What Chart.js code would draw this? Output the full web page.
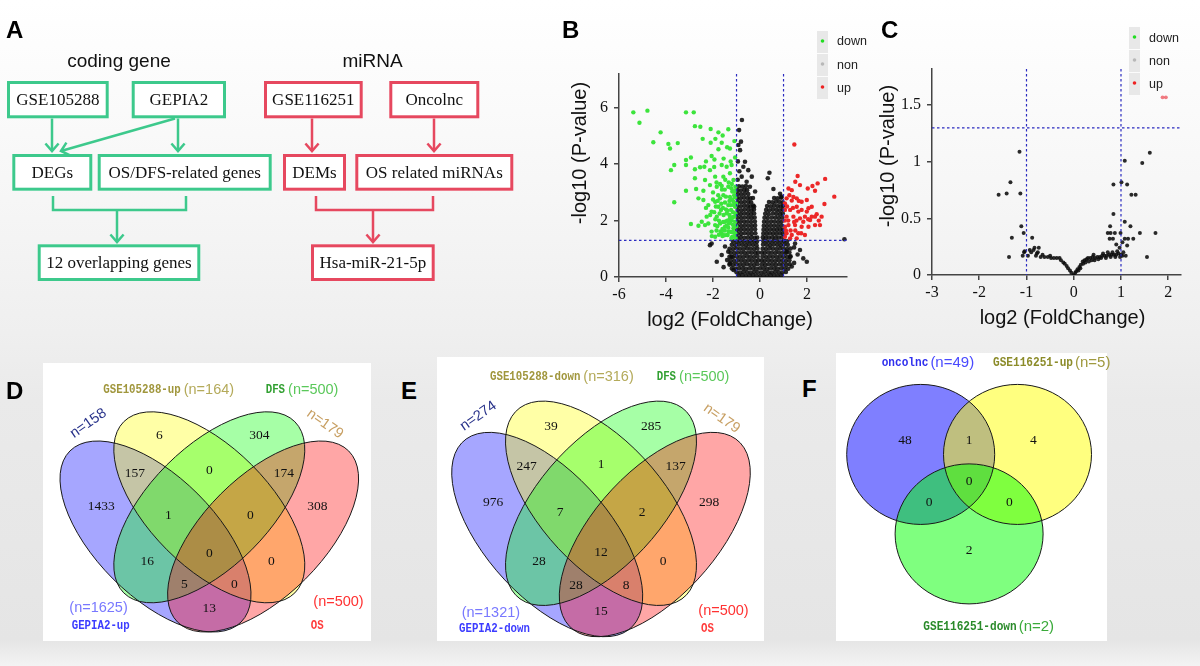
<!DOCTYPE html>
<html><head><meta charset="utf-8"><title>Figure</title>
<script src="https://cdn.jsdelivr.net/npm/chart.js@4.4.1/dist/chart.umd.min.js"></script>
<style>
html,body{margin:0;padding:0;width:1200px;height:666px;overflow:hidden;}
body{position:relative;background:linear-gradient(to bottom,#ffffff 0%,#f6f6f6 30%,#efefef 50%,#eaeaea 60%,#e5e5e5 96%,#f3f3f3 100%);}
canvas{position:absolute;}
.lab{position:absolute;z-index:5;font:bold 24px "Liberation Sans",Arial,sans-serif;line-height:24px;color:#000;}
</style></head>
<body>
<canvas id="cA" style="left:0px;top:0px" width="560" height="330"></canvas>
<canvas id="cB" style="left:560px;top:0px" width="310" height="340"></canvas>
<canvas id="cC" style="left:870px;top:0px" width="330" height="340"></canvas>
<canvas id="cD" style="left:43px;top:363px" width="328" height="278"></canvas>
<canvas id="cE" style="left:437px;top:357px" width="327" height="284"></canvas>
<canvas id="cF" style="left:836px;top:353px" width="284" height="288"></canvas>
<div class="lab" style="left:6px;top:18px">A</div>
<div class="lab" style="left:562px;top:18px">B</div>
<div class="lab" style="left:881px;top:18px">C</div>
<div class="lab" style="left:6px;top:379px">D</div>
<div class="lab" style="left:401px;top:379px">E</div>
<div class="lab" style="left:802px;top:377px">F</div>
<script>
// ================= DATA =================
// Panel A (flowchart texts)
const flowHeadings = ['coding gene', 'miRNA'];
const codingGeneBoxes = ['GSE105288', 'GEPIA2', 'DEGs', 'OS/DFS-related genes', '12 overlapping genes'];
const mirnaBoxes = ['GSE116251', 'Oncolnc', 'DEMs', 'OS related miRNAs', 'Hsa-miR-21-5p'];

// Panels B, C (volcano plots)
const seriesNames = ['down', 'non', 'up'];
const axisTitles = ['log2 (FoldChange)', '-log10 (P-value)'];
const foldChangeCutoffs = [-1, 1];
const pValueCutoff = 1.3;
const bXTicks = [-6, -4, -2, 0, 2];
const bYTicks = [0, 2, 4, 6];
const bDown = [[-5.39,5.84],[-4.79,5.9],[-5.13,5.47],[-4.23,5.13],[-4.54,4.78],[-3.9,4.72],[-3.83,4.56],[-3.5,4.75],[-3.15,5.84],[-2.82,5.84],[-2.77,5.35],[-2.54,5.33],[-2.1,5.25],[-1.77,5.13],[-1.59,5.02],[-1.35,5.24],[-2.44,4.9],[-2.1,4.76],[-1.63,4.76],[-1.09,4.82],[-1.28,4.56],[-1.77,4.53],[-2.06,4.29],[-3.15,4.15],[-2.94,4.24],[-1.06,4.24],[-1.94,4.17],[-3.65,3.97],[-3.79,3.79],[-3.15,3.97],[-2.77,3.82],[-2.55,3.89],[-2.37,3.91],[-2.13,3.79],[-1.63,3.97],[-1.42,3.91],[-1.21,3.97],[-1.91,3.56],[-1.56,3.56],[-1.28,3.68],[-1.13,3.44],[-3.65,2.65],[-3.15,3.06],[-2.72,3.12],[-2.41,3.06],[-2.13,3.26],[-1.84,3.2],[-1.63,3.23],[-1.35,3.2],[-1.18,3.03],[-2.94,1.88],[-2.62,1.82],[-2.34,1.84],[-2.06,1.61],[-2.41,2.73],[-2.2,2.55],[-1.91,2.67],[-1.7,2.79],[-1.49,2.64],[-1.28,2.84],[-1.13,2.67],[-2.06,2.32],[-1.84,2.14],[-1.66,2.38],[-1.42,2.26],[-1.23,2.38],[-1.09,2.14],[-1.91,1.84],[-1.7,1.9],[-1.49,1.78],[-1.32,1.9],[-1.13,1.73],[-1.63,1.55],[-1.38,1.49],[-1.18,1.43],[-1.91,1.43],[-1.28,2.08],[-1.49,1.96],[-1.35,2.55],[-1.56,2.9],[-1.06,2.84],[-1.06,2.49],[-1.06,1.96],[-1.06,1.55],[-1.77,2.49],[-2.34,3.44],[-2.77,3.5],[-2.62,2.79],[-2.27,2.14],[-2.48,1.96],[-1.15,2.3],[-1.2,2.0],[-1.25,1.6],[-1.4,2.0],[-1.55,2.2],[-1.6,1.7],[-1.75,2.0],[-1.45,2.4],[-1.3,2.7],[-1.1,2.9],[-1.5,3.1],[-1.8,2.7],[-1.95,2.3],[-2.2,1.9],[-1.05,3.2],[-1.2,3.3],[-1.4,1.5],[-1.6,1.45],[-1.1,1.45],[-1.02,2.6],[-1.3,2.2],[-1.7,3.3],[-2.0,3.0],[-1.15,1.85],[-1.25,2.55],[-1.35,1.75],[-1.45,2.85],[-1.65,2.6],[-1.85,1.65],[-1.05,2.25],[-1.2,1.6],[-1.02,1.8],[-1.5,1.65],[-1.75,1.5],[-1.9,2.05],[-2.05,1.45],
[-1.12,2.55],[-1.18,2.75],[-1.08,3.05],[-1.22,3.15],[-1.33,3.35],[-1.48,3.45],[-1.62,3.1],[-1.78,2.9],[-1.88,2.5],[-1.72,2.25],[-1.58,2.45],[-1.38,2.35],[-1.17,2.12],[-1.27,1.95],[-1.42,1.82],[-1.57,1.95],[-1.68,1.62],[-1.52,1.48],[-1.33,1.62],[-1.14,1.6],[-1.04,1.38],[-1.22,1.38],[-1.82,1.8],[-2.12,2.2],[-2.3,2.45],[-2.0,2.75],[-1.85,3.35],[-1.95,3.9],[-1.55,4.2],[-1.25,4.1],[-1.4,4.6],[-1.9,4.9],[-2.3,4.1]];
const bNon = [[-0.9,0.05],[-0.75,0.06],[-0.6,0.04],[-0.45,0.05],[-0.3,0.06],[-0.15,0.04],[0,0.03],[0.15,0.05],[0.3,0.04],[0.45,0.06],[0.6,0.05],[0.75,0.04],[0.9,0.06],
[-1.0,0.17],[-0.85,0.16],[-0.7,0.18],[-0.55,0.17],[-0.4,0.16],[-0.25,0.18],[-0.1,0.17],[0.05,0.16],[0.2,0.18],[0.35,0.17],[0.5,0.16],[0.65,0.18],[0.8,0.17],[0.95,0.16],[1.1,0.18],
[-1.2,0.3],[-1.05,0.29],[-0.9,0.31],[-0.75,0.3],[-0.6,0.29],[-0.45,0.31],[-0.3,0.3],[-0.15,0.29],[0,0.31],[0.15,0.3],[0.3,0.29],[0.45,0.31],[0.6,0.3],[0.75,0.29],[0.9,0.31],[1.05,0.3],[1.2,0.29],
[-1.3,0.44],[-1.15,0.43],[-1.0,0.45],[-0.85,0.44],[-0.7,0.43],[-0.55,0.45],[-0.4,0.44],[-0.25,0.43],[-0.1,0.45],[0.08,0.44],[0.22,0.43],[0.37,0.45],[0.52,0.44],[0.67,0.43],[0.82,0.45],[0.97,0.44],[1.12,0.43],[1.27,0.45],
[-1.25,0.58],[-1.1,0.57],[-0.95,0.59],[-0.8,0.58],[-0.65,0.57],[-0.5,0.59],[-0.35,0.58],[-0.2,0.57],[-0.07,0.59],[0.07,0.58],[0.2,0.57],[0.35,0.59],[0.5,0.58],[0.65,0.57],[0.8,0.59],[0.95,0.58],[1.1,0.57],[1.25,0.59],
[-1.3,0.72],[-1.15,0.71],[-1.0,0.73],[-0.85,0.72],[-0.7,0.71],[-0.55,0.73],[-0.4,0.72],[-0.25,0.71],[-0.1,0.73],[0.1,0.72],[0.25,0.71],[0.4,0.73],[0.55,0.72],[0.7,0.71],[0.85,0.73],[1.0,0.72],[1.15,0.71],[1.3,0.73],
[-1.25,0.86],[-1.1,0.85],[-0.95,0.87],[-0.8,0.86],[-0.65,0.85],[-0.5,0.87],[-0.35,0.86],[-0.2,0.85],[-0.08,0.87],[0.08,0.86],[0.2,0.85],[0.35,0.87],[0.5,0.86],[0.65,0.85],[0.8,0.87],[0.95,0.86],[1.1,0.85],[1.25,0.87],
[-1.3,1.0],[-1.15,0.99],[-1.0,1.01],[-0.85,1.0],[-0.7,0.99],[-0.55,1.01],[-0.4,1.0],[-0.25,0.99],[-0.11,1.01],[0.11,1.0],[0.25,0.99],[0.4,1.01],[0.55,1.0],[0.7,0.99],[0.85,1.01],[1.0,1.0],[1.15,0.99],[1.3,1.01],
[-1.2,1.14],[-1.05,1.13],[-0.9,1.15],[-0.75,1.14],[-0.6,1.13],[-0.45,1.15],[-0.3,1.14],[-0.15,1.13],[0.13,1.15],[0.28,1.14],[0.43,1.13],[0.58,1.15],[0.73,1.14],[0.88,1.13],[1.03,1.15],[1.18,1.14],
[-1.15,1.27],[-1.0,1.26],[-0.85,1.28],[-0.7,1.27],[-0.55,1.26],[-0.4,1.28],[-0.25,1.27],[-0.13,1.26],[0.14,1.28],[0.28,1.27],[0.43,1.26],[0.58,1.28],[0.73,1.27],[0.88,1.26],[1.02,1.28],[1.15,1.27],
[-0.97,1.4],[-0.82,1.41],[-0.67,1.39],[-0.52,1.4],[-0.37,1.41],[-0.22,1.39],[-0.12,1.4],[0.12,1.41],[0.24,1.39],[0.38,1.4],[0.52,1.41],[0.66,1.39],[0.8,1.4],[0.94,1.41],
[-0.95,1.54],[-0.8,1.53],[-0.65,1.55],[-0.5,1.54],[-0.35,1.53],[-0.2,1.55],[0.14,1.54],[0.28,1.53],[0.42,1.55],[0.56,1.54],[0.7,1.53],[0.85,1.55],[0.97,1.54],
[-0.97,1.68],[-0.82,1.67],[-0.67,1.69],[-0.52,1.68],[-0.37,1.67],[-0.21,1.69],[0.15,1.68],[0.29,1.67],[0.44,1.69],[0.58,1.68],[0.72,1.67],[0.86,1.69],[0.98,1.68],
[-0.95,1.82],[-0.8,1.81],[-0.65,1.83],[-0.5,1.82],[-0.35,1.81],[-0.21,1.83],[0.16,1.82],[0.3,1.81],[0.45,1.83],[0.6,1.82],[0.75,1.81],[0.9,1.83],
[-0.97,1.96],[-0.83,1.95],[-0.68,1.97],[-0.53,1.96],[-0.38,1.95],[-0.22,1.97],[0.17,1.96],[0.31,1.95],[0.47,1.97],[0.62,1.96],[0.77,1.95],[0.92,1.97],
[-0.95,2.1],[-0.8,2.09],[-0.65,2.11],[-0.5,2.1],[-0.36,2.09],[-0.23,2.11],[0.19,2.1],[0.33,2.09],[0.5,2.11],[0.65,2.1],[0.8,2.09],[0.95,2.11],
[-0.97,2.24],[-0.82,2.23],[-0.67,2.25],[-0.52,2.24],[-0.38,2.23],[-0.25,2.25],[0.22,2.24],[0.37,2.23],[0.55,2.25],[0.7,2.24],[0.85,2.23],[0.97,2.25],
[-0.95,2.38],[-0.8,2.37],[-0.65,2.39],[-0.5,2.38],[-0.36,2.37],[-0.26,2.39],[0.26,2.38],[0.4,2.37],[0.55,2.39],[0.7,2.38],[0.84,2.37],[0.97,2.39],
[-0.97,2.52],[-0.82,2.51],[-0.67,2.53],[-0.52,2.52],[-0.4,2.51],[-0.29,2.53],[0.3,2.52],[0.45,2.51],[0.6,2.53],[0.75,2.52],[0.88,2.51],[0.98,2.53],
[-0.95,2.66],[-0.8,2.65],[-0.65,2.67],[-0.5,2.66],[-0.38,2.65],[0.38,2.66],[0.53,2.65],[0.68,2.67],[0.83,2.66],[0.97,2.65],
[-0.97,2.8],[-0.83,2.79],[-0.68,2.81],[-0.53,2.8],[-0.41,2.79],[0.6,2.8],[0.75,2.79],[0.9,2.81],
[-0.95,2.94],[-0.8,2.93],[-0.65,2.95],[-0.5,2.94],[0.85,2.95],
[-0.97,3.08],[-0.82,3.07],[-0.67,3.09],[-0.55,3.08],
[-0.9,3.22],[-0.75,3.21],[-0.6,3.23],
[-0.77,5.57],[-0.89,5.21],[-0.81,4.8],[-0.92,4.68],[-0.85,4.5],[0.4,3.7],[0.33,3.5],[0.57,3.12],[-0.64,4.09],[-0.71,3.91],[-0.5,3.79],[-0.35,3.56],[-0.57,3.38],[-0.43,3.2],[-0.21,3.03],[-0.78,3.56],[0.92,2.85],[-2.06,1.19],[-1.84,0.54],[-1.63,0.78],[-1.49,1.08],[-1.35,0.9],[-1.28,0.48],[-1.21,0.72],[-1.13,0.25],[-2.13,1.13],[1.49,1.19],[1.7,0.96],[1.84,0.66],[1.99,0.54],[1.28,0.72],[1.13,0.9],[1.35,0.37],[3.59,1.34],[-0.95,3.45],[-0.88,3.75],[-0.94,4.1],[1.45,1.05],[1.6,0.8],[-1.4,0.6],[-1.55,0.35],[1.45,0.5],[-0.3,2.8],[-0.25,2.5]];
const bUp = [[1.46,4.7],[1.6,3.58],[1.5,3.38],[1.7,3.26],[2.77,3.48],[2.45,3.32],[2.23,3.23],[2.03,3.14],[2.34,3.06],[3.16,2.85],[2.74,2.59],[1.21,3.14],[1.35,3.08],[1.13,2.79],[1.35,2.71],[1.56,2.79],[1.77,2.67],[1.99,2.73],[2.2,2.49],[2.41,2.23],[2.55,1.84],[2.34,2.14],[2.06,2.44],[1.77,2.38],[1.56,2.49],[1.28,2.38],[1.13,2.14],[1.42,2.14],[1.7,2.08],[1.91,2.14],[2.13,2.02],[1.21,1.84],[1.49,1.84],[1.77,1.78],[2.06,1.78],[2.34,1.84],[1.13,1.55],[1.35,1.49],[1.63,1.55],[1.91,1.49],[1.28,1.37],[1.56,1.37],[1.06,1.43],[1.06,1.78],[1.06,2.38],[1.06,2.61],[1.42,2.84],[2.62,2.14],[2.2,2.14],[1.99,2.32],[1.63,2.32],[1.84,1.96],[1.2,2.0],[1.3,1.65],[1.5,1.65],[1.15,2.5],[1.4,2.45],[1.25,2.9],[1.55,2.0],[1.05,2.0],[1.1,1.65],[1.75,1.55],[1.45,1.95],[2.05,2.05],[1.65,2.7],[2.5,2.0]];
const cXTicks = [-3, -2, -1, 0, 1, 2];
const cYTicks = [0, 0.5, 1, 1.5];
const cDown = [];
const cNon = [[-1.148,1.09],[-1.34,0.82],[-1.59,0.71],[-1.42,0.72],[-1.13,0.72],[-1.11,0.43],[-1.06,0.37],[-1.31,0.33],[-1.37,0.16],[-1.04,0.21],[-0.88,0.33],[-0.83,0.24],[-0.74,0.24],[-0.9,0.2],[-0.76,0.2],[-0.7,0.16],[-0.62,0.16],[-0.55,0.16],[-0.48,0.15],[-0.42,0.15],[-0.36,0.15],[-0.3,0.15],[-0.97,0.17],[-0.8,0.17],[-0.66,0.18],[-0.5,0.17],[-0.27,0.13],[-0.22,0.11],[-0.19,0.1],[-0.15,0.08],[-0.12,0.06],[-0.08,0.04],[-0.05,0.02],[0,0],[0.03,0.02],[0.05,0.03],[0.08,0.05],[0.12,0.07],[0.15,0.09],[0.19,0.12],[0.23,0.13],[0.27,0.14],[0.3,0.15],[0.35,0.15],[0.4,0.16],[0.45,0.15],[0.5,0.16],[0.55,0.16],[0.6,0.17],[0.65,0.17],[0.7,0.17],[0.75,0.18],[0.8,0.18],[0.85,0.18],[0.9,0.18],[0.95,0.19],[1.0,0.18],[1.03,0.17],[0.2,0.1],[0.25,0.11],[0.32,0.12],[0.38,0.13],[0.44,0.13],[0.52,0.14],[0.58,0.15],[0.68,0.15],[0.78,0.16],[0.88,0.16],[0.98,0.16],[0.1,0.04],[0.14,0.06],[0.42,0.18],[0.62,0.19],[0.72,0.2],[0.82,0.2],[0.92,0.21],[0.97,0.24],[1.08,1.01],[1.61,1.08],[1.45,0.99],[0.84,0.8],[1.01,0.82],[1.13,0.8],[1.22,0.71],[1.31,0.71],[0.84,0.54],[1.08,0.47],[0.77,0.43],[0.87,0.37],[0.72,0.37],[0.99,0.37],[1.08,0.32],[1.15,0.32],[1.26,0.32],[1.2,0.43],[1.4,0.37],[1.73,0.37],[1.13,0.26],[1.55,0.16],[0.76,0.32],[0.83,0.32],[0.78,0.37],[1.05,0.2],[1.1,0.17],[0.9,0.27],[1.03,0.29],[-1.05,0.2],[-1.08,0.17],[-0.93,0.22],[-0.85,0.22],[-0.78,0.19]];
const cUp = [[1.88,1.57],[1.95,1.57]];

// Panels D, E, F (Venn diagrams)
const dSetNames = ['GEPIA2-up', 'GSE105288-up', 'DFS', 'OS'];
const dSetSizes = [1625, 164, 500, 500];
const dCornerSizes = [158, 179];
// region order: Y, G, BY, YG, GR, B, R, BYG, YGR, BG, BYGR, YR, BGR, BYR, BR
const dRegionCounts = [6, 304, 157, 0, 174, 1433, 308, 1, 0, 16, 0, 0, 5, 0, 13];
const eSetNames = ['GEPIA2-down', 'GSE105288-down', 'DFS', 'OS'];
const eSetSizes = [1321, 316, 500, 500];
const eCornerSizes = [274, 179];
const eRegionCounts = [39, 285, 247, 1, 137, 976, 298, 7, 2, 28, 12, 0, 28, 8, 15];
const fSetNames = ['oncolnc', 'GSE116251-up', 'GSE116251-down'];
const fSetSizes = [49, 5, 2];
// region order: O, OU, U, OUD, OD, UD, D
const fRegionCounts = [48, 1, 4, 0, 0, 0, 2];

// ================= LAYOUT / STYLE =================
const GREEN = '#3dc98c', RED = '#e6485f';
const FLOW = {
  headings: [[119, 62], [372.5, 62]],
  boxes: [[7,81,108.7,118.3],[131.7,81,226,118.3],[12.3,154,92.3,190.7],[97.7,154,271.7,190.7],[37.7,244.3,200.3,281],
          [264,81,362.7,118.3],[389.3,81,479.3,118.3],[283,154,346,190.7],[355.3,154,513.3,190.7],[311,244.3,434.7,281]],
  arrows: [
    {col: GREEN, p: [[52,118.5],[52,151]], head: true},
    {col: GREEN, p: [[178,118.5],[178,151]], head: true},
    {col: GREEN, p: [[175,118.5],[61,151]], head: true},
    {col: GREEN, p: [[53,196],[53,210],[186,210],[186,196]], head: false},
    {col: GREEN, p: [[117,210],[117,242]], head: true},
    {col: RED, p: [[312,118.5],[312,151]], head: true},
    {col: RED, p: [[434,118.5],[434,151]], head: true},
    {col: RED, p: [[316,196],[316,210],[433,210],[433,196]], head: false},
    {col: RED, p: [[373,210],[373,242]], head: true}
  ]
};
const QUAD_A = 121, QUAD_B = 60;
const QUAD_SHAPES = [
  {c: [-53.8, 29.2], rot: 45, fill: 'rgba(0,0,255,0.35)'},
  {c: [0, 0], rot: 45, fill: 'rgba(255,255,0,0.35)'},
  {c: [0, 0], rot: -45, fill: 'rgba(0,255,0,0.35)'},
  {c: [53.8, 29.2], rot: -45, fill: 'rgba(255,0,0,0.35)'}
].map(s => Object.assign(s, {a: QUAD_A, b: QUAD_B}));
const QUAD_POS = [[-50,-71.6],[50,-71.6],[-74.5,-34],[0,-36.6],[74.5,-34],[-108,-0.6],[108,-0.6],[-41,8.4],[41,8.4],[-62,54.4],[0,46.4],[62,54.4],[-25,77],[25,77],[0,101]];
const TRI_SHAPES = [
  {c: [-48.4, -28], rot: 0, a: 74, b: 74, fill: 'rgba(0,0,255,0.5)'},
  {c: [48.4, -28], rot: 0, a: 74, b: 74, fill: 'rgba(255,255,0,0.5)'},
  {c: [0, 56], rot: 0, a: 74, b: 74, fill: 'rgba(0,255,0,0.5)'}
];
const TRI_POS = [[-64.1,-43.2],[0,-43.2],[64.2,-43.2],[0,0.8],[-40.1,23],[40.2,23],[0,73]];

const MONO = 'bold 12px "Liberation Mono", monospace';
const SANS = s => s + 'px "Liberation Sans", Arial, sans-serif';
const NUMFONT = '13.5px "Liberation Serif", "Times New Roman", serif';

// ================= CHARTS =================
const baseOpts = (pad) => ({
  responsive: false, animation: false, events: [],
  layout: {padding: pad},
  plugins: {legend: {display: false}, tooltip: {enabled: false}}
});

// ---- Panel A: flowchart ----
const flowPlugin = {
  id: 'flow',
  afterDatasetsDraw(chart) {
    const c = chart.ctx, xs = chart.scales.x, ys = chart.scales.y;
    const P = (x, y) => [xs.getPixelForValue(x), ys.getPixelForValue(y)];
    c.save();
    c.fillStyle = '#111'; c.font = SANS(19); c.textAlign = 'center'; c.textBaseline = 'middle';
    flowHeadings.forEach((t, i) => { const p = P(FLOW.headings[i][0], FLOW.headings[i][1]); c.fillText(t, p[0], p[1]); });
    const labels = codingGeneBoxes.concat(mirnaBoxes);
    FLOW.boxes.forEach((b, i) => {
      const p0 = P(b[0], b[1]), p1 = P(b[2], b[3]);
      c.fillStyle = '#ffffff';
      c.fillRect(p0[0], p0[1], p1[0] - p0[0], p1[1] - p0[1]);
      c.strokeStyle = i < 5 ? GREEN : RED; c.lineWidth = 3;
      c.strokeRect(p0[0] + 1.5, p0[1] + 1.5, p1[0] - p0[0] - 3, p1[1] - p0[1] - 3);
      c.fillStyle = '#111'; c.font = '17px "Liberation Serif", "Times New Roman", serif';
      c.fillText(labels[i], (p0[0] + p1[0]) / 2, (p0[1] + p1[1]) / 2 + 1);
    });
    FLOW.arrows.forEach(ar => {
      const pts = ar.p.map(q => P(q[0], q[1]));
      c.strokeStyle = ar.col; c.lineWidth = 2.5; c.lineJoin = 'miter'; c.lineCap = 'butt';
      c.beginPath(); c.moveTo(pts[0][0], pts[0][1]);
      pts.slice(1).forEach(q => c.lineTo(q[0], q[1]));
      c.stroke();
      if (ar.head) {
        const e = pts[pts.length - 1], s = pts[pts.length - 2];
        const ang = Math.atan2(e[1] - s[1], e[0] - s[0]), L = 10, h = 0.72;
        c.beginPath();
        c.moveTo(e[0] - L * Math.cos(ang - h), e[1] - L * Math.sin(ang - h));
        c.lineTo(e[0], e[1]);
        c.lineTo(e[0] - L * Math.cos(ang + h), e[1] - L * Math.sin(ang + h));
        c.stroke();
      }
    });
    c.restore();
  }
};
new Chart(document.getElementById('cA'), {
  type: 'scatter',
  data: {datasets: [{data: []}]},
  options: Object.assign(baseOpts(0), {
    scales: {x: {type: 'linear', display: false, min: 0, max: 560}, y: {type: 'linear', display: false, min: 0, max: 330, reverse: true}}
  }),
  plugins: [flowPlugin]
});

// ---- Panels B, C: volcano plots ----
const LEG_COLORS = ['#22dd22', '#b8b8b8', '#ee2222'];
function axisCfg(min, max, ticksArr, isX, size) {
  return {
    type: 'linear', min: min, max: max,
    afterBuildTicks: s => { s.ticks = ticksArr.map(v => ({value: v})); },
    afterFit: s => { if (isX) s.height = size; else s.width = size; },
    grid: {drawOnChartArea: false, drawTicks: true, tickLength: 5, color: '#444', lineWidth: 1.5},
    border: {display: true, color: '#444', width: 1.5},
    ticks: {color: '#111', font: {family: '"Liberation Serif", "Times New Roman", serif', size: 16}, padding: isX ? 3 : 6, autoSkip: false, maxRotation: 0, callback: v => String(v)}
  };
}
function makeVolcanoDeco(g) {
  return {
    id: 'deco' + g.key,
    afterDatasetsDraw(chart) {
      const c = chart.ctx, xs = chart.scales.x, ys = chart.scales.y, a = chart.chartArea;
      c.save(); c.strokeStyle = '#2a2ac0'; c.lineWidth = 1.2; c.setLineDash([2.5, 2.5]);
      foldChangeCutoffs.forEach(v => { const px = xs.getPixelForValue(v); c.beginPath(); c.moveTo(px, a.top); c.lineTo(px, a.bottom); c.stroke(); });
      const py = ys.getPixelForValue(pValueCutoff);
      c.beginPath(); c.moveTo(a.left, py); c.lineTo(a.right, py); c.stroke();
      c.restore();
    },
    afterDraw(chart) {
      const c = chart.ctx;
      c.save();
      seriesNames.forEach((n, i) => {
        c.fillStyle = '#e8e8e8';
        c.fillRect(g.leg.x, g.leg.y[i], 11, 22);
        c.fillStyle = LEG_COLORS[i];
        c.beginPath(); c.arc(g.leg.x + 5.5, g.leg.y[i] + 10, 1.8, 0, Math.PI * 2); c.fill();
        c.fillStyle = '#222'; c.font = SANS(12.5); c.textAlign = 'left'; c.textBaseline = 'middle';
        c.fillText(n, g.leg.tx, g.leg.ty[i]);
      });
      c.fillStyle = '#111'; c.font = SANS(20); c.textAlign = 'center'; c.textBaseline = 'middle';
      c.fillText(axisTitles[0], g.xt[0], g.xt[1]);
      c.translate(g.yt[0], g.yt[1]); c.rotate(-Math.PI / 2);
      c.fillText(axisTitles[1], 0, 0);
      c.restore();
    }
  };
}
function volcano(id, down, non, up, xr, yr, xt, yt, g) {
  const toXY = arr => arr.map(p => ({x: p[0], y: p[1]}));
  new Chart(document.getElementById(id), {
    type: 'scatter',
    data: {datasets: [
      {label: seriesNames[1], data: toXY(non), backgroundColor: 'rgba(12,12,12,0.88)', pointRadius: g.r, borderWidth: 0, order: 3},
      {label: seriesNames[0], data: toXY(down), backgroundColor: 'rgb(60,228,60)', pointRadius: g.r2, borderWidth: 0, order: 2},
      {label: seriesNames[2], data: toXY(up), backgroundColor: g.upColor, pointRadius: g.r2, borderWidth: 0, order: 1}
    ]},
    options: Object.assign(baseOpts({top: g.top, right: g.right, left: 0, bottom: 0}), {
      scales: {x: axisCfg(xr[0], xr[1], xt, true, g.xh), y: axisCfg(yr[0], yr[1], yt, false, g.yw)}
    }),
    plugins: [makeVolcanoDeco(g)]
  });
}
volcano('cB', bDown, bNon, bUp, [-6, 3.7], [0, 7.2], bXTicks, bYTicks,
  {key: 'B', top: 74, right: 23, xh: 63, yw: 59, r: 2.3, r2: 2.2, upColor: 'rgb(236,40,40)',
   leg: {x: 257, y: [31, 54, 77], tx: 277, ty: [42, 66, 89]}, xt: [170, 320], yt: [20, 153]});
volcano('cC', cDown, cNon, cUp, [-3, 2.27], [0, 1.82], cXTicks, cYTicks,
  {key: 'C', top: 69, right: 19, xh: 65, yw: 62, r: 2.0, r2: 1.9, upColor: 'rgba(236,80,90,0.75)',
   leg: {x: 259, y: [27, 50, 73], tx: 279, ty: [39, 62, 85]}, xt: [192.5, 318], yt: [18.5, 156]});

// ---- Panels D, E, F: Venn diagrams ----
function makeVenn(cfg) {
  return {
    id: 'venn' + cfg.key,
    beforeDraw(chart) {
      const c = chart.ctx; c.save(); c.fillStyle = '#ffffff';
      c.fillRect(cfg.box[0], cfg.box[1], cfg.box[2], cfg.box[3]); c.restore();
    },
    beforeDatasetsDraw(chart) {
      const c = chart.ctx, xs = chart.scales.x, ys = chart.scales.y;
      const path = sh => {
        const px = xs.getPixelForValue(sh.c[0]), py = ys.getPixelForValue(sh.c[1]);
        const kx = Math.abs(xs.getPixelForValue(sh.c[0] + 1) - px), ky = Math.abs(ys.getPixelForValue(sh.c[1] + 1) - py);
        c.save(); c.translate(px, py); c.scale(kx, ky); c.rotate(sh.rot * Math.PI / 180);
        c.beginPath(); c.ellipse(0, 0, sh.a, sh.b, 0, 0, Math.PI * 2); c.restore();
      };
      c.save();
      cfg.shapes.forEach(sh => { path(sh); c.fillStyle = sh.fill; c.fill(); });
      cfg.shapes.forEach(sh => { path(sh); c.strokeStyle = '#1a1a1a'; c.lineWidth = 1; c.stroke(); });
      c.restore();
    },
    afterDatasetsDraw(chart) {
      const c = chart.ctx, meta = chart.getDatasetMeta(0), ds = chart.data.datasets[0];
      c.save();
      c.fillStyle = '#111'; c.font = NUMFONT; c.textAlign = 'center'; c.textBaseline = 'middle';
      meta.data.forEach((el, i) => c.fillText(String(ds.data[i].v), el.x, el.y));
      cfg.labels.forEach(L => {
        c.save(); c.translate(L.x, L.y);
        if (L.rot) c.rotate(L.rot * Math.PI / 180);
        c.textBaseline = 'middle'; c.textAlign = L.rot ? 'center' : 'left';
        let x = 0;
        L.parts.forEach(p => {
          c.font = p.f; c.fillStyle = p.col;
          const sx = p.sx || 1;
          c.save(); c.translate(x, 0); c.scale(sx, 1); c.fillText(p.t, 0, 0); c.restore();
          x += c.measureText(p.t).width * sx + (cfg.gap || 3);
        });
        c.restore();
      });
      c.restore();
    }
  };
}
function venn(id, cfg) {
  new Chart(document.getElementById(id), {
    type: 'scatter',
    data: {datasets: [{data: cfg.pos.map((p, i) => ({x: p[0], y: p[1], v: cfg.counts[i]})), pointRadius: 0, pointHoverRadius: 0, borderWidth: 0}]},
    options: Object.assign(baseOpts(cfg.pad), {
      scales: {x: {type: 'linear', display: false, min: cfg.xr[0], max: cfg.xr[1]},
               y: {type: 'linear', display: false, min: cfg.yr[0], max: cfg.yr[1], reverse: true}}
    }),
    plugins: [makeVenn(cfg)]
  });
}
const N = v => '(n=' + v + ')';
const SX4 = 0.896, SX3 = 0.926;
venn('cD', {
  key: 'D', box: [0, 0, 328, 278], pad: 0, xr: [-166.3, 161.7], yr: [-144.3, 133.7],
  shapes: QUAD_SHAPES, pos: QUAD_POS, counts: dRegionCounts,
  labels: [
    {x: 60.3, y: 27, parts: [{t: dSetNames[1], f: MONO, sx: SX4, col: '#a0963c'}, {t: N(dSetSizes[1]), f: SANS(14.5), col: '#b4aa5a'}]},
    {x: 222.7, y: 27, parts: [{t: dSetNames[2], f: MONO, sx: SX4, col: '#32a032'}, {t: N(dSetSizes[2]), f: SANS(14.5), col: '#5ac85a'}]},
    {x: 45.3, y: 60.3, rot: -35, parts: [{t: 'n=' + dCornerSizes[0], f: SANS(14.5), col: '#28328a'}]},
    {x: 282, y: 61, rot: 35, parts: [{t: 'n=' + dCornerSizes[1], f: SANS(14.5), col: '#c8a064'}]},
    {x: 26.3, y: 245.3, parts: [{t: N(dSetSizes[0]), f: SANS(14.5), col: '#7878ff'}]},
    {x: 28.7, y: 263, parts: [{t: dSetNames[0], f: MONO, sx: SX4, col: '#3c3cff'}]},
    {x: 270.3, y: 239.3, parts: [{t: N(dSetSizes[3]), f: SANS(14.5), col: '#ff3232'}]},
    {x: 267.7, y: 263, parts: [{t: dSetNames[3], f: MONO, sx: SX4, col: '#ff3c3c'}]}
  ]
});
venn('cE', {
  key: 'E', box: [0, 0, 327, 284], pad: 0, xr: [-164, 163], yr: [-136.7, 128.7],
  shapes: QUAD_SHAPES, pos: QUAD_POS, counts: eRegionCounts,
  labels: [
    {x: 53, y: 19.7, parts: [{t: eSetNames[1], f: MONO, sx: SX4, col: '#a0963c'}, {t: N(eSetSizes[1]), f: SANS(14.5), col: '#b4aa5a'}]},
    {x: 219.7, y: 19.7, parts: [{t: eSetNames[2], f: MONO, sx: SX4, col: '#32a032'}, {t: N(eSetSizes[2]), f: SANS(14.5), col: '#5ac85a'}]},
    {x: 41.3, y: 59, rot: -35, parts: [{t: 'n=' + eCornerSizes[0], f: SANS(14.5), col: '#28328a'}]},
    {x: 284.7, y: 61.3, rot: 35, parts: [{t: 'n=' + eCornerSizes[1], f: SANS(14.5), col: '#c8a064'}]},
    {x: 24.7, y: 256.3, parts: [{t: N(eSetSizes[0]), f: SANS(14.5), col: '#7878ff'}]},
    {x: 22, y: 272.3, parts: [{t: eSetNames[0], f: MONO, sx: SX4, col: '#3c3cff'}]},
    {x: 261.3, y: 253.7, parts: [{t: N(eSetSizes[3]), f: SANS(14.5), col: '#ff3232'}]},
    {x: 264, y: 272.3, parts: [{t: eSetNames[3], f: MONO, sx: SX4, col: '#ff3c3c'}]}
  ]
});
venn('cF', {
  key: 'F', box: [0, 0, 271, 288], pad: {right: 13}, xr: [-133.1, 137.9], yr: [-135.2, 169.2], gap: 2,
  shapes: TRI_SHAPES, pos: TRI_POS, counts: fRegionCounts,
  labels: [
    {x: 45.7, y: 10.3, parts: [{t: fSetNames[0], f: MONO, sx: SX3, col: '#3030ee'}, {t: N(fSetSizes[0]), f: SANS(15), col: '#4a4aff'}]},
    {x: 157, y: 10.3, parts: [{t: fSetNames[1], f: MONO, sx: SX3, col: '#8c8c2a'}, {t: N(fSetSizes[1]), f: SANS(15), col: '#a09a40'}]},
    {x: 87.3, y: 273.7, parts: [{t: fSetNames[2], f: MONO, sx: SX3, col: '#2a8a2a'}, {t: N(fSetSizes[2]), f: SANS(15), col: '#3aaa3a'}]}
  ]
});
</script>
</body></html>
